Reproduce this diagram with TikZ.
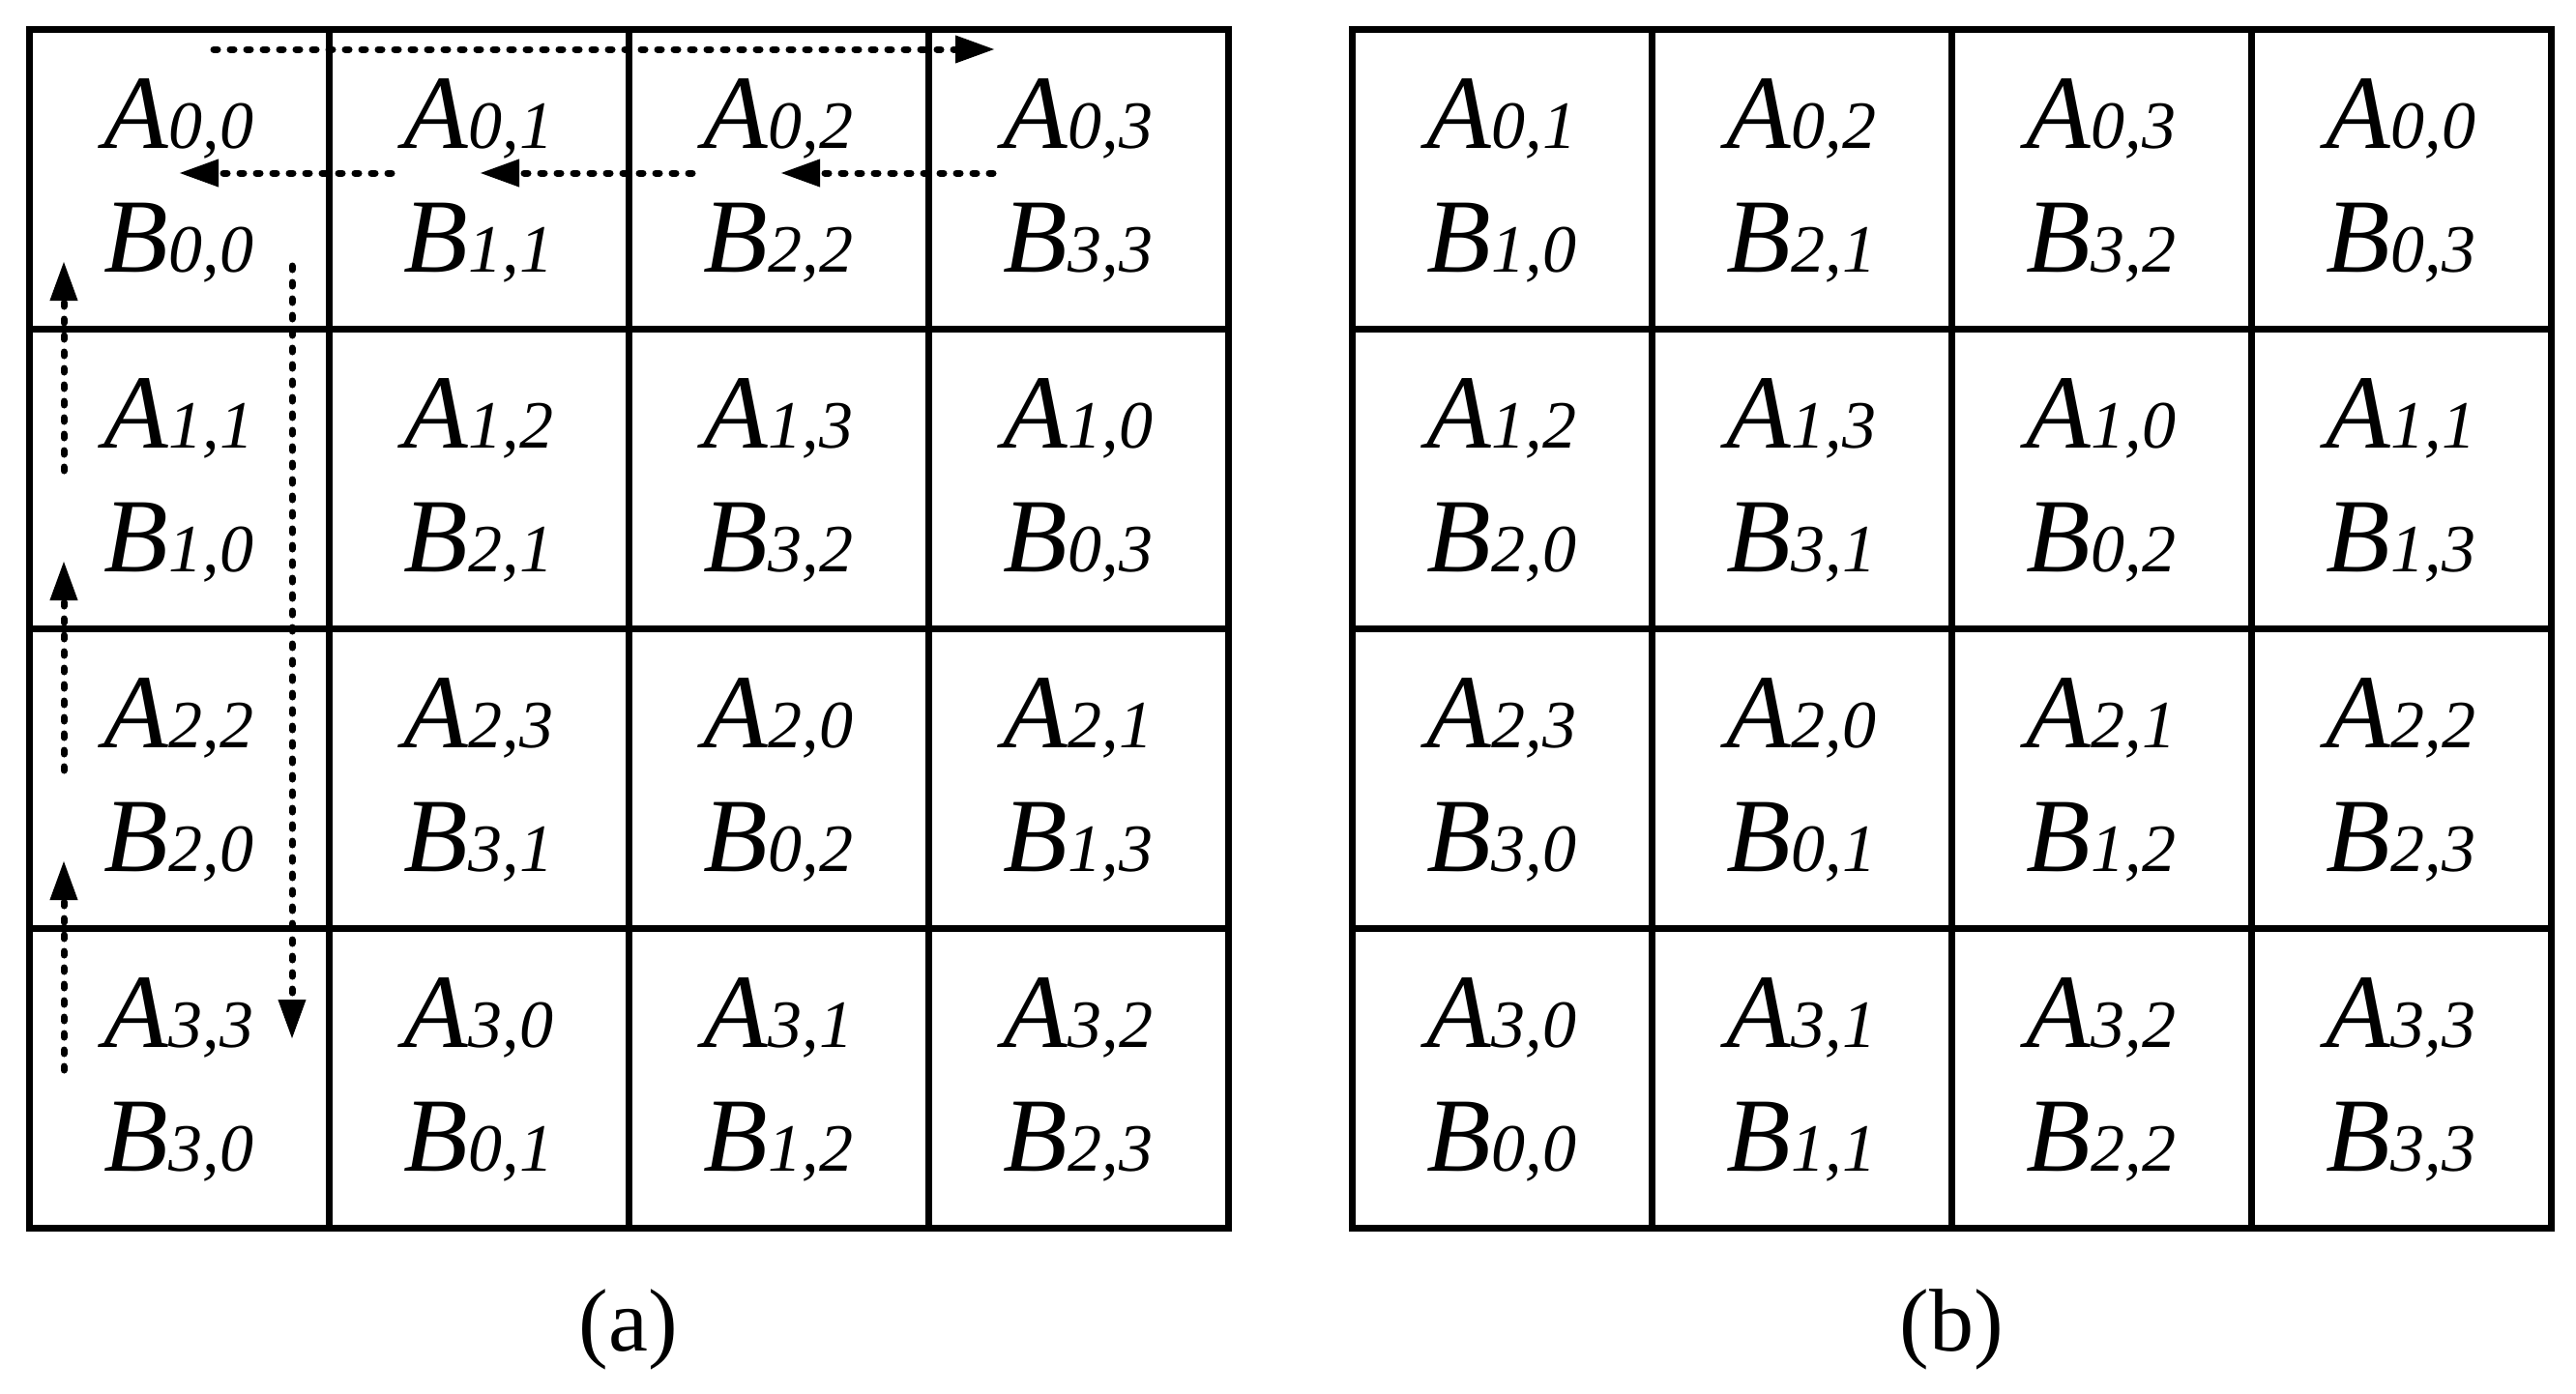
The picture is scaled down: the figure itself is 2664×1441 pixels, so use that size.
\documentclass[tikz,border=0pt]{standalone}
\usepackage{fontspec}
\setmainfont{Liberation Serif}
\usetikzlibrary{arrows.meta}
\newcommand{\ent}[2]{\itshape{\fontsize{109pt}{120pt}\selectfont #1}{\fontsize{70pt}{80pt}\selectfont #2}}
\tikzstyle{entry}=[anchor=base,inner sep=0pt]
\tikzstyle{gridline}=[line width=7pt]
\tikzstyle{flow}=[line width=7pt,dash pattern=on 4pt off 13pt,line cap=round,-{Triangle[length=41pt,width=27pt]}]
\tikzstyle{caption}=[anchor=base,inner sep=0pt,font=\fontsize{92pt}{100pt}\selectfont]

\begin{document}
\begin{tikzpicture}[x=1pt,y=-1pt]
\useasboundingbox (0,0) rectangle (2664,1441);

% grids
\draw[gridline] (30,30) rectangle (1270,1270);
\draw[gridline] (1398,30) rectangle (2638,1270);
\foreach \k in {1,2,3} {
  \draw[gridline] (30+310*\k,30) -- (30+310*\k,1270);
  \draw[gridline] (30,30+310*\k) -- (1270,30+310*\k);
  \draw[gridline] (1398+310*\k,30) -- (1398+310*\k,1270);
  \draw[gridline] (1398,30+310*\k) -- (2638,30+310*\k);
}

% entries
\foreach \r in {0,...,3} \foreach \c in {0,...,3} {
  \pgfmathtruncatemacro{\ka}{mod(\r+\c,4)}
  \pgfmathtruncatemacro{\kb}{mod(\r+\c+1,4)}
  \node[entry] (pa-A\r\c) at (185+310*\c,153+310*\r) {\ent{A}{\r,\ka}};
  \node[entry] (pa-B\r\c) at (185+310*\c,281+310*\r) {\ent{B}{\ka,\c}};
  \node[entry] (pb-A\r\c) at (1553+310*\c,153+310*\r) {\ent{A}{\r,\kb}};
  \node[entry] (pb-B\r\c) at (1553+310*\c,281+310*\r) {\ent{B}{\kb,\c}};
}

% shifts
\coordinate (top s) at (221,51);
\coordinate (top e) at (1029,51);
\draw[flow] (top s) -- (top e);
\foreach \k in {0,1,2} {
  \coordinate (left s\k) at (405+311*\k,179);
  \coordinate (left e\k) at (185+311*\k,179);
  \draw[flow] (left s\k) -- (left e\k);
  \coordinate (up s\k) at (66,487+310*\k);
  \coordinate (up e\k) at (66,270+310*\k);
  \draw[flow] (up s\k) -- (up e\k);
}
\coordinate (down s) at (302,275);
\coordinate (down e) at (302,1075);
\draw[flow] (down s) -- (down e);

% captions
\node[caption] (capa) at (650,1397) {(a)};
\node[caption] (capb) at (2018,1397) {(b)};

\end{tikzpicture}
\end{document}
